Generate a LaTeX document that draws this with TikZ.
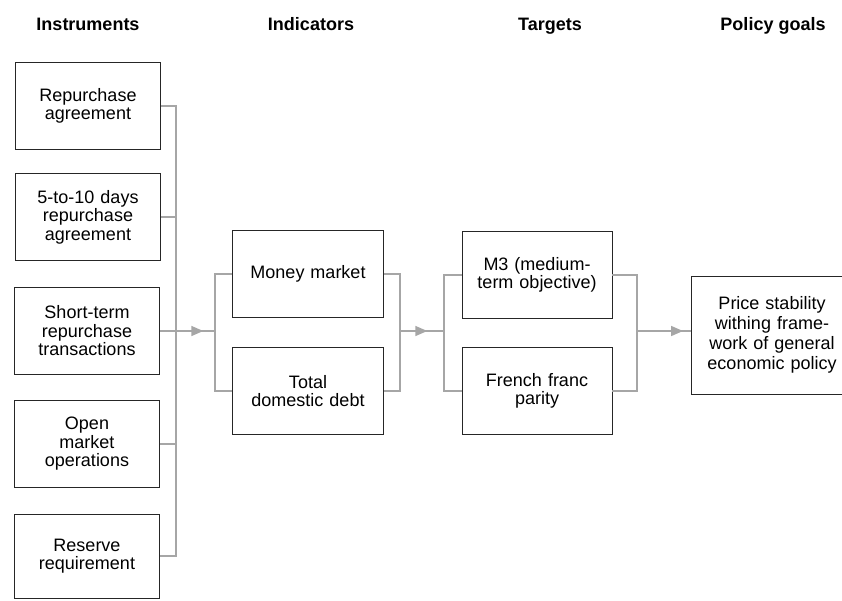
\documentclass[tikz,border=0pt]{standalone}
\usepackage{fontspec}
\setmainfont{Liberation Sans}
\usetikzlibrary{positioning}
\usetikzlibrary{arrows.meta}
\usetikzlibrary{decorations.markings}
\tikzset{
  % One box of the transmission chain
  stage/.style={
    draw=black!85, line width=0.9pt, fill=white, align=center,
    font=\fontsize{18}{18.5}\selectfont, inner xsep=4pt, text width=#1,
    minimum height=87pt},
  % Column heading, placed by its baseline
  colhead/.style={font=\fontsize{18}{20}\selectfont\bfseries, anchor=base},
  % Bracket that gathers the boxes of a column
  gather/.style={draw=black!35, color=black!35, line width=1.5pt},
  % Link from one bracket to the next, tip placed before its end
  feed/.style={gather, postaction={decorate}, decoration={markings,
    mark=at position #1 with {\arrow{Triangle[length=12pt, width=10pt]}}}},
}

\begin{document}
\begin{tikzpicture}[x=1pt, y=-1pt]
  \useasboundingbox (0,0) rectangle (842,600);

  \node[colhead] (hinst) at (88,30) {Instruments};
  \node[colhead] (hind) at (311,30) {Indicators};
  \node[colhead] (htarg) at (550,30) {Targets};
  \node[colhead] (hgoal) at (773,30) {Policy goals};

  % instruments
  \node[stage=137pt] (repo) at (88,106) {Repurchase\\agreement};
  \node[stage=137pt] (repoten) at (88,217) {5-to-10 days\\repurchase\\agreement};
  \node[stage=137pt] (shortrepo) at (87,331) {Short-term\\repurchase\\transactions};
  \node[stage=137pt] (openmkt) at (87,444) {Open\\market\\operations};
  \node[stage=137pt, minimum height=84pt] (reserve) at (87,556) {Reserve\\requirement};

  % indicators
  \node[stage=143pt] (money) at (308,274) {Money market};
  \node[stage=143pt] (debt) at (308,391) {Total\\domestic debt};

  % targets
  \node[stage=142pt] (mthree) at (537,275) {M3 (medium-\\term objective)};
  \node[stage=142pt] (franc) at (537,391) {French franc\\parity};

  % policy goal, its right side runs off the page
  \node[stage=154pt, minimum height=118pt, font=\fontsize{18}{20}\selectfont]
    (goal) at (772,335)
    {Price stability\\withing frame-\\work of general\\economic policy};

  \coordinate (ib) at (176,331);
  \coordinate (il) at (215,331);
  \coordinate (ir) at (400,331);
  \coordinate (tl) at (444,331);
  \coordinate (tr) at (637,331);

  \draw[gather] (repo.east) -- (repo.east -| ib) -- (reserve.east -| ib) -- (reserve.east);
  \foreach \n in {repoten,shortrepo,openmkt}
    \draw[gather] (\n.east) -- (\n.east -| ib);

  \draw[gather] (money.west) -- (money.west -| il) -- (debt.west -| il) -- (debt.west);
  \draw[gather] (money.east) -- (money.east -| ir) -- (debt.east -| ir) -- (debt.east);
  \draw[gather] (mthree.west) -- (mthree.west -| tl) -- (franc.west -| tl) -- (franc.west);
  \draw[gather] (mthree.east) -- (mthree.east -| tr) -- (franc.east -| tr) -- (franc.east);

  \draw[feed=0.7] (ib) -- (il);
  \draw[feed=0.62] (ir) -- (tl);
  \draw[feed=0.86] (tr) -- (tr -| goal.west);

\end{tikzpicture}
\end{document}
